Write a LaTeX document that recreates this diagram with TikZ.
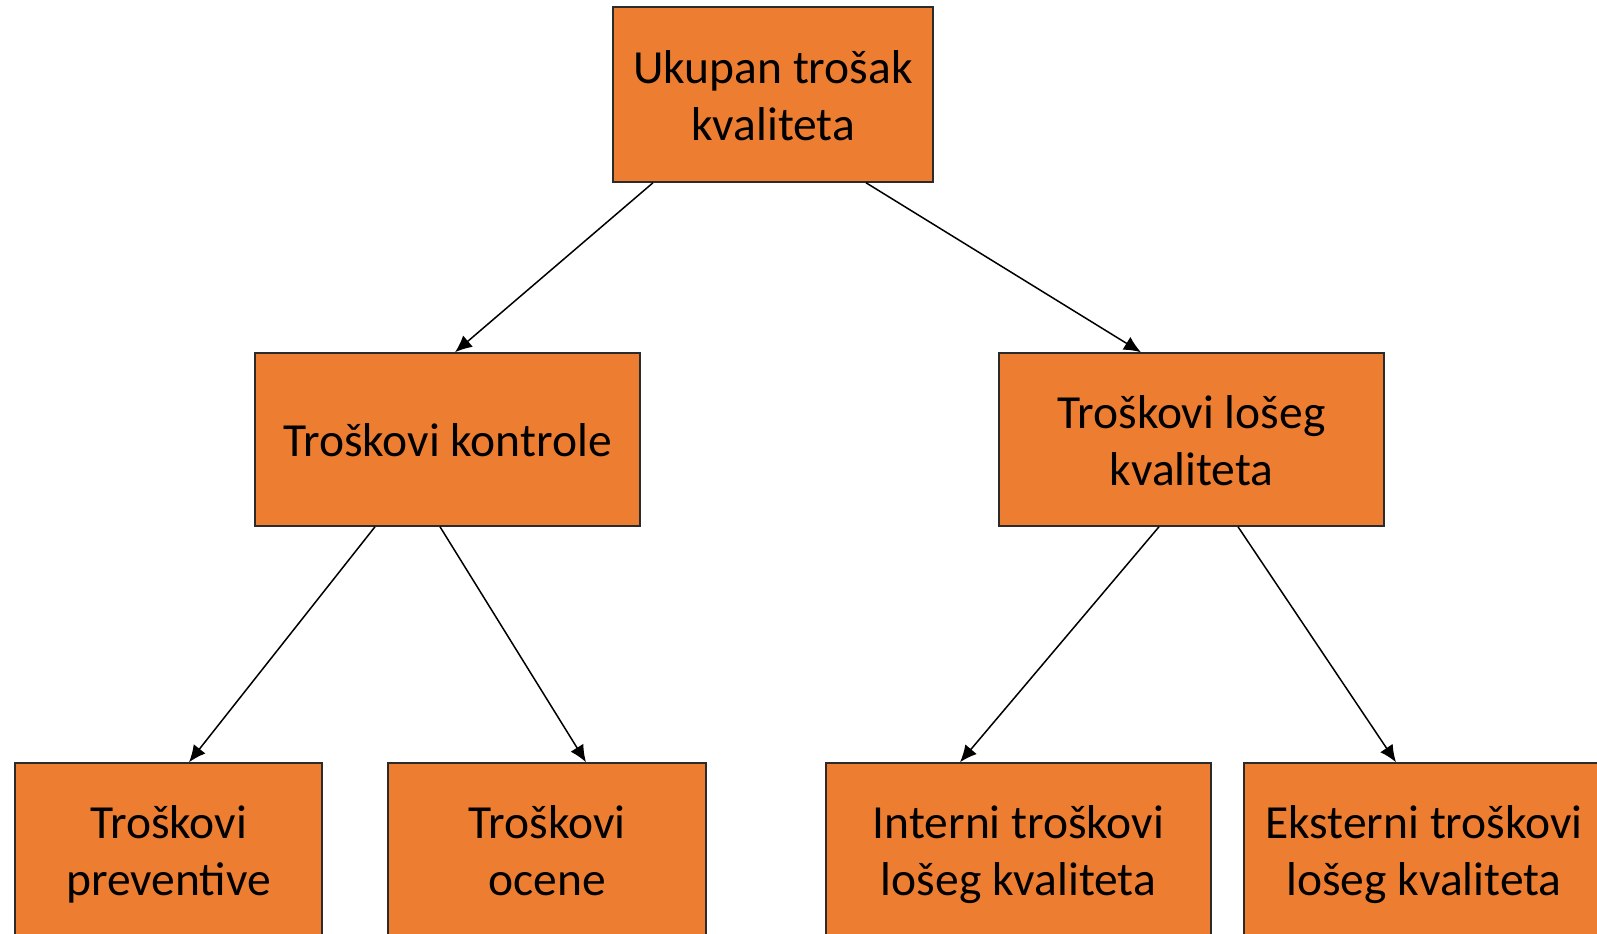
\documentclass[tikz,border=0pt]{standalone}
\usepackage{fontspec}
\setmainfont{Carlito}
\usepackage{xcolor}
\usepackage{tikz}
\usetikzlibrary{arrows.meta,calc,positioning}
\definecolor{kvorange}{HTML}{ED7D31}
\definecolor{kvrub}{HTML}{2B2B2B}
\newcommand\kvh{\rule{0pt}{25pt}}
\newcommand\kvd{\rule[-7.6pt]{0pt}{7.6pt}}

\begin{document}
\begin{tikzpicture}[x=0.5pt,y=-0.5pt,
  kbox/.style={draw=kvrub,line width=0.75pt,fill=kvorange,align=center,inner sep=0pt,
    font=\fontsize{23.75}{28.5}\selectfont},
  kveza/.style={line width=0.75pt,-{Latex[length=8.5pt,width=7.5pt]}}]
\clip (0,0) rectangle (1597,933);
\node[kbox,minimum width=160pt,minimum height=87.5pt] (ukupno) at (773,94.5) {\kvh Ukupan trošak\\kvaliteta\kvd};
\node[kbox,minimum width=192.5pt,minimum height=86.5pt] (kontrola) at (447.5,439.5) {\kvh Troškovi kontrole\kvd};
\node[kbox,minimum width=192.5pt,minimum height=86.5pt] (los) at (1191.5,439.5) {\kvh Troškovi lošeg\\kvaliteta\kvd};
\node[kbox,minimum width=153.5pt,minimum height=86.5pt] (prev) at (168.5,849.5) {\kvh Troškovi\\preventive\kvd};
\node[kbox,minimum width=159pt,minimum height=86.5pt] (ocena) at (547,849.5) {\kvh Troškovi\\ocene\kvd};
\node[kbox,minimum width=192.5pt,minimum height=86.5pt] (interni) at (1018.5,849.5) {\kvh Interni troškovi\\lošeg kvaliteta\kvd};
\node[kbox,minimum width=180pt,minimum height=86.5pt] (eksterni) at (1424,849.5) {\kvh Eksterni troškovi\\lošeg kvaliteta\kvd};
\draw[kveza] ($(ukupno.south)+(-120,0)$) -- ($(kontrola.north)+(7.5,0)$);
\draw[kveza] ($(ukupno.south)+(93,0)$) -- ($(los.north)+(-50.5,0)$);
\draw[kveza] ($(kontrola.south)+(-72.5,0)$) -- ($(prev.north)+(20.5,0)$);
\draw[kveza] ($(kontrola.south)+(-7.5,0)$) -- ($(ocena.north)+(39,0)$);
\draw[kveza] ($(los.south)+(-32.5,0)$) -- ($(interni.north)+(-58.5,0)$);
\draw[kveza] ($(los.south)+(46.5,0)$) -- ($(eksterni.north)+(-28,0)$);
\end{tikzpicture}
\end{document}
